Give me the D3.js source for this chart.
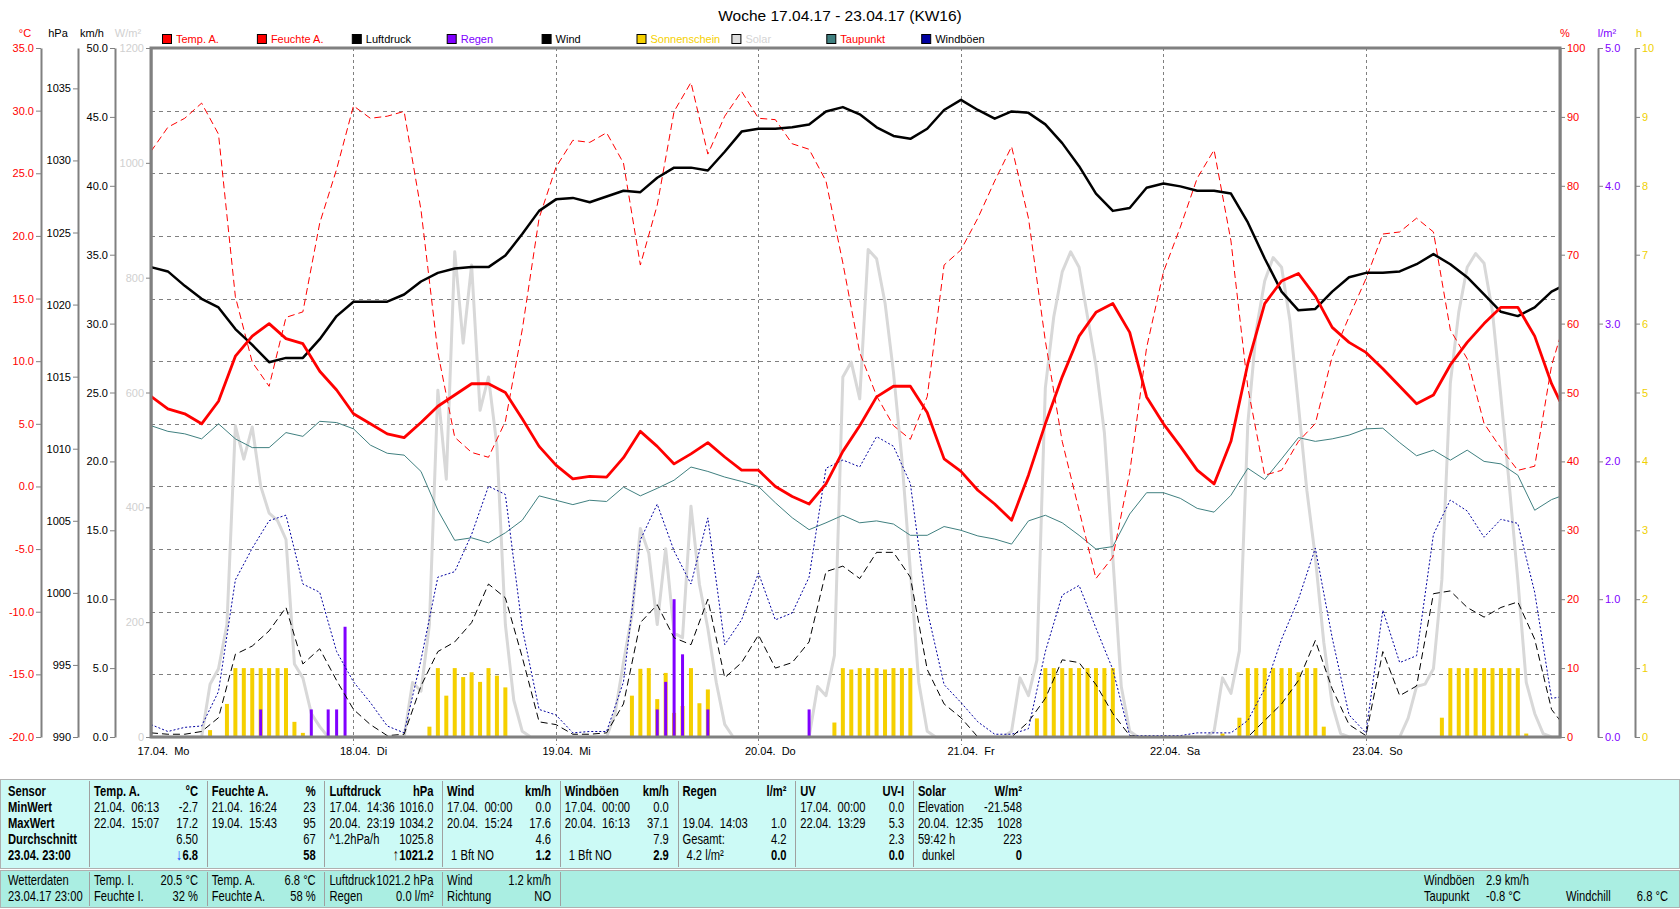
<!DOCTYPE html>
<html>
<head>
<meta charset="utf-8">
<script src="https://cdn.jsdelivr.net/npm/d3@7"></script>
<style>
  body { margin: 0; background: #fff; }
  svg { display: block; }
</style>
</head>
<body>
<svg id="chart" width="1680" height="909"></svg>
<script>
// ---- data (17.04.17 - 23.04.17) ----
// smooth series every 2 hours (h0 .. h166) plus the last reading at h167
const hours2 = d3.range(0, 168, 2).concat([167]);
const hours1 = d3.range(0, 168);

const tempA = [7.2, 6.2, 5.8, 5.0, 6.8, 10.4, 12.0, 13.0, 11.8, 11.4, 9.2, 7.7, 5.8, 5.0, 4.2, 3.9, 5.1, 6.4, 7.3, 8.2, 8.2, 7.5,
  5.4, 3.2, 1.7, 0.6, 0.8, 0.75, 2.3, 4.4, 3.2, 1.8, 2.6, 3.5, 2.35, 1.3, 1.3, 0.0, -0.8, -1.4, 0.2, 2.8,
  4.85, 7.15, 8.0, 8.0, 5.9, 2.2, 1.2, -0.3, -1.4, -2.7, 0.9, 5.0, 8.75, 12.0, 13.9, 14.6, 12.3, 7.15, 5.0, 3.2, 1.3,
  0.2, 3.6, 9.8, 14.6, 16.4, 17.0, 15.2, 12.7, 11.5, 10.7, 9.4, 8.0, 6.6, 7.3, 9.7, 11.5, 13.0, 14.3, 14.3, 12.0, 8.2,
  6.8];

const humidA = [85.0, 88.5, 89.8, 92.0, 87.5, 63.9, 54.4, 50.9, 60.9, 61.7, 74.6, 82.4, 91.6, 89.8, 90.1, 90.8, 76.5, 55.8, 43.5, 41.3, 40.6, 45.8,
  59.1, 75.3, 82.7, 86.6, 86.3, 87.7, 83.3, 68.5, 77.2, 90.8, 95.0, 84.6, 90.1, 93.7, 89.8, 89.6, 86.1, 85.3, 80.7, 68.8,
  55.8, 49.5, 45.2, 43.2, 49.4, 68.5, 70.7, 75.3, 80.7, 85.7, 75.3, 57.5, 42.9, 32.9, 23.0, 26.1, 38.4, 56.5, 67.5, 74.0, 81.1,
  85.2, 72.0, 50.7, 38.0, 38.7, 42.9, 45.5, 55.2, 61.0, 66.5, 73.0, 73.3, 75.3, 73.3, 59.1, 54.9, 45.5, 41.9, 38.7, 39.3, 53.9,
  58];

const pressure = [1022.6, 1022.3, 1021.3, 1020.4, 1019.8, 1018.3, 1017.2, 1016.0, 1016.3, 1016.3, 1017.6, 1019.2, 1020.2, 1020.2, 1020.2, 1020.7, 1021.6, 1022.2, 1022.5, 1022.6, 1022.6, 1023.4,
  1024.9, 1026.5, 1027.3, 1027.4, 1027.1, 1027.5, 1027.9, 1027.8, 1028.8, 1029.5, 1029.5, 1029.3, 1030.6, 1032.0, 1032.2, 1032.2, 1032.3, 1032.5, 1033.4, 1033.7,
  1033.2, 1032.3, 1031.7, 1031.5, 1032.2, 1033.5, 1034.2, 1033.5, 1032.9, 1033.4, 1033.3, 1032.5, 1031.2, 1029.6, 1027.7, 1026.5, 1026.7, 1028.1, 1028.4, 1028.2, 1027.9,
  1027.9, 1027.7, 1025.7, 1023.2, 1020.9, 1019.6, 1019.7, 1020.9, 1021.9, 1022.2, 1022.2, 1022.3, 1022.8, 1023.5, 1022.8, 1021.9, 1020.7, 1019.5, 1019.2, 1019.8, 1020.9,
  1021.2];

const dewPoint = [4.85, 4.4, 4.2, 3.8, 5.0, 3.8, 3.1, 3.1, 4.3, 4.0, 5.2, 5.1, 4.6, 3.3, 2.65, 2.5, 1.2, -1.9, -4.3, -4.1, -4.5, -3.7,
  -2.7, -0.75, -1.1, -1.45, -1.1, -1.2, -0.05, -0.75, -0.15, 0.5, 1.55, 1.2, 0.75, 0.4, 0.0, -1.3, -2.5, -3.45, -2.9, -2.3,
  -2.9, -2.75, -3.0, -3.9, -3.9, -3.2, -3.5, -3.95, -4.2, -4.6, -2.75, -2.3, -2.9, -3.9, -5.0, -4.8, -2.2, -0.5, -0.5, -0.95, -1.75,
  -2.05, -0.7, 1.45, 0.55, 2.2, 3.9, 3.6, 3.8, 4.1, 4.6, 4.65, 3.5, 2.45, 2.9, 2.1, 2.9, 2.0, 1.8, 0.9, -1.9, -1.05,
  -0.8];

const wind = [0.3, 0.2, 0.2, 0.4, 1.4, 6.0, 6.6, 7.7, 9.4, 5.3, 6.4, 4.1, 2.0, 0.9, 0.1, 0.2, 3.7, 6.2, 6.9, 8.3, 11.1, 10.1,
  5.8, 1.1, 0.9, 0.2, 0.2, 0.3, 2.4, 8.3, 9.6, 7.2, 6.7, 10.0, 4.3, 5.4, 7.4, 5.0, 5.4, 6.9, 12.0, 12.4,
  11.5, 13.4, 13.4, 11.6, 4.9, 2.4, 1.4, 0, 0, 0, 1.1, 2.8, 5.6, 5.4, 3.8, 1.7, 0.1, 0, 0, 0, 0,
  0, 0, 0, 1.2, 2.4, 4.1, 7.0, 3.5, 0.9, 0.1, 6.2, 3.0, 3.7, 10.4, 10.6, 9.4, 8.7, 9.4, 9.8, 7.1, 2.0,
  1.2];

const gusts = [0.9, 0.4, 0.7, 0.8, 3.3, 11.4, 13.7, 15.7, 16.1, 11.1, 10.5, 6.2, 4.0, 2.5, 0.8, 0.3, 5.6, 11.6, 12.0, 14.7, 18.2, 17.6,
  7.9, 2.0, 1.6, 0.3, 0.4, 0.4, 4.0, 14.3, 16.9, 13.5, 11.1, 15.9, 6.7, 8.5, 11.9, 8.5, 9.0, 11.6, 19.5, 20.1,
  19.6, 21.8, 21.1, 18.4, 9.2, 3.8, 2.5, 1.1, 0.2, 0.2, 0.6, 6.2, 10.3, 11.0, 7.9, 4.9, 0.1, 0.1, 0.1, 0.1, 0.3,
  0.3, 0.3, 1.2, 3.5, 7.1, 10.0, 13.7, 7.2, 1.6, 0.3, 9.2, 5.4, 5.9, 14.7, 17.2, 16.4, 14.5, 15.8, 15.5, 10.5, 2.8,
  2.9];

// solar radiation, hourly (W/m²)
const solar = [
  0, 0, 0, 0, 0, 0, 0, 92, 119, 196, 542, 484, 540, 437, 390, 377, 344, 127, 103, 41, 18, 0, 0, 0,
  0, 0, 0, 0, 0, 0, 0, 95, 80, 196, 604, 449, 845, 686, 822, 569, 627, 507, 196, 64, 10, 0, 0, 0,
  0, 0, 0, 0, 0, 0, 0, 41, 130, 212, 363, 320, 196, 328, 181, 173, 402, 266, 189, 95, 22, 0, 0, 0,
  0, 0, 0, 0, 0, 0, 0, 88, 72, 142, 627, 653, 589, 849, 833, 756, 635, 484, 290, 95, 10, 0, 0, 0,
  0, 0, 0, 0, 0, 0, 10, 103, 72, 134, 608, 732, 810, 845, 818, 732, 647, 530, 313, 88, 10, 0, 0, 0,
  0, 0, 0, 0, 0, 0, 10, 103, 76, 150, 546, 709, 794, 835, 818, 724, 577, 429, 313, 165, 57, 6, 0, 0,
  0, 0, 0, 0, 0, 33, 88, 92, 119, 274, 616, 740, 818, 842, 825, 740, 592, 437, 274, 95, 41, 6, 0, 0];

// sunshine duration per hour (h)
const sunHours = [7, 9, 10, 11, 12, 13, 14, 15, 16, 17, 18,
  33, 34, 35, 36, 37, 38, 39, 40, 41, 42,
  57, 58, 59, 60, 61, 62, 63, 64, 65, 66,
  81, 82, 83, 84, 85, 86, 87, 88, 89, 90,
  105, 106, 107, 108, 109, 110, 111, 112, 113, 114,
  127, 129, 130, 131, 132, 133, 134, 135, 136, 137, 138, 139,
  153, 154, 155, 156, 157, 158, 159, 160, 161, 162, 163];
const sunDur = [0.1, 0.48, 1, 1, 1, 1, 1, 1, 1, 0.22, 0.06,
  0.15, 1, 0.6, 1, 0.87, 0.94, 0.8, 1, 0.89, 0.72,
  0.6, 0.99, 1, 0.55, 0.93, 0.35, 0.45, 1, 0.49, 0.69,
  0.21, 1, 0.98, 1, 1, 1, 0.98, 1, 1, 1,
  0.27, 1, 1, 1, 1, 1, 1, 1, 1, 1,
  0.05, 0.28, 1, 1, 1, 1, 1, 1, 0.94, 1, 1, 0.15,
  0.28, 1, 1, 1, 1, 1, 1, 1, 1, 1, 0.05];

// rain per hour (l/m²)
const rainHours = [13, 19, 21, 22, 23, 60, 61, 62, 63, 66, 78];
const rainAmt = [0.2, 0.2, 0.2, 0.2, 0.8, 0.2, 0.4, 1.0, 0.6, 0.2, 0.2];

const dayLabels = ['17.04.  Mo', '18.04.  Di', '19.04.  Mi', '20.04.  Do', '21.04.  Fr', '22.04.  Sa', '23.04.  So'];

const legendNames = ['Temp. A.', 'Feuchte A.', 'Luftdruck', 'Regen', 'Wind', 'Sonnenschein', 'Solar', 'Taupunkt', 'Windböen'];
const legendBox = ['#ff0000', '#ff0000', '#000000', '#8000ff', '#000000', '#f5d000', '#dcdcdc', '#408080', '#0000a0'];
const legendText = ['#ff0000', '#ff0000', '#000000', '#8000ff', '#000000', '#f5d000', '#d4d4d4', '#ff0000', '#000000'];

// summary table
const tableHead = ['Temp. A.', 'Feuchte A.', 'Luftdruck', 'Wind', 'Windböen', 'Regen', 'UV', 'Solar'];
const tableUnit = ['°C', '%', 'hPa', 'km/h', 'km/h', 'l/m²', 'UV-I', 'W/m²'];
const rowLabels = ['Sensor', 'MinWert', 'MaxWert', 'Durchschnitt', '23.04. 23:00'];
const minRow = [['21.04.  06:13', '-2.7'], ['21.04.  16:24', '23'], ['17.04.  14:36', '1016.0'], ['17.04.  00:00', '0.0'], ['17.04.  00:00', '0.0'], ['', ''], ['17.04.  00:00', '0.0'], ['Elevation', '-21.548']];
const maxRow = [['22.04.  15:07', '17.2'], ['19.04.  15:43', '95'], ['20.04.  23:19', '1034.2'], ['20.04.  15:24', '17.6'], ['20.04.  16:13', '37.1'], ['19.04.  14:03', '1.0'], ['22.04.  13:29', '5.3'], ['20.04.  12:35', '1028']];
const avgRow = [['', '6.50'], ['', '67'], ['^1.2hPa/h', '1025.8'], ['', '4.6'], ['', '7.9'], ['Gesamt:', '4.2'], ['', '2.3'], ['59:42 h', '223']];
const nowRow = [['', '6.8'], ['', '58'], ['', '1021.2'], ['1 Bft NO', '1.2'], ['1 Bft NO', '2.9'], ['4.2 l/m²', '0.0'], ['', '0.0'], ['dunkel', '0']];
const nowArrow = ['↓', '', '↑', '', '', '', '', ''];
const nowArrowColor = ['#1040ff', '', '#301000', '', '', '', '', ''];

const statusLeft = ['Wetterdaten', '23.04.17 23:00'];
const statusCols = [
  [['Temp. I.', '20.5 °C'], ['Feuchte I.', '32 %']],
  [['Temp. A.', '6.8 °C'], ['Feuchte A.', '58 %']],
  [['Luftdruck', '1021.2 hPa'], ['Regen', '0.0 l/m²']],
  [['Wind', '1.2 km/h'], ['Richtung', 'NO']]
];
const statusRight = [['Windböen', '2.9 km/h'], ['Taupunkt', '-0.8 °C']];
const statusChill = ['Windchill', '6.8 °C'];

// ---- layout ----
const FONT = "'Liberation Sans', Arial, sans-serif";
const plot = { left: 151, right: 1560, top: 48, bottom: 737 };
const SX = 0.8;   // horizontal squeeze for the narrow table font

const svg = d3.select('#chart');

const x = d3.scaleLinear().domain([0, 167]).range([plot.left, plot.right]);
const yTemp = d3.scaleLinear().domain([-20, 35]).range([plot.bottom, plot.top]);
const yPress = d3.scaleLinear().domain([990, 1037.8]).range([plot.bottom, plot.top]);
const yWind = d3.scaleLinear().domain([0, 50]).range([plot.bottom, plot.top]);
const ySolar = d3.scaleLinear().domain([0, 1200]).range([plot.bottom, plot.top]);
const yHum = d3.scaleLinear().domain([0, 100]).range([plot.bottom, plot.top]);
const yRain = d3.scaleLinear().domain([0, 5]).range([plot.bottom, plot.top]);
const ySun = d3.scaleLinear().domain([0, 10]).range([plot.bottom, plot.top]);

// title
svg.append('text')
    .attr('x', 840).attr('y', 21)
    .attr('text-anchor', 'middle')
    .attr('font-family', FONT).attr('font-size', 15.5)
    .attr('fill', '#000')
    .text('Woche 17.04.17 - 23.04.17 (KW16)');

// legend
const legend = svg.append('g').attr('font-family', FONT).attr('font-size', 11);
legendNames.forEach((name, i) => {
    const lx = 162 + i * 94.9;
    legend.append('rect')
        .attr('x', lx + 0.5).attr('y', 34.5).attr('width', 9).attr('height', 9)
        .attr('fill', legendBox[i]).attr('stroke', '#000');
    legend.append('text')
        .attr('x', lx + 14).attr('y', 42.5)
        .attr('fill', legendText[i])
        .text(name);
});

// unit labels above the axes
const units = [
    { t: '°C', x: 25, c: '#ff0000' }, { t: 'hPa', x: 58, c: '#000' }, { t: 'km/h', x: 92, c: '#000' },
    { t: 'W/m²', x: 128, c: '#d0d0d0' }, { t: '%', x: 1565, c: '#ff0000' }, { t: 'l/m²', x: 1607, c: '#8000ff' },
    { t: 'h', x: 1639, c: '#f0d000' }
];
svg.append('g').attr('font-family', FONT).attr('font-size', 11)
    .selectAll('text').data(units).join('text')
    .attr('x', d => d.x).attr('y', 36.5)
    .attr('text-anchor', 'middle')
    .attr('fill', d => d.c)
    .text(d => d.t);

// axes
function drawAxis(axis, xPos, color) {
    const g = svg.append('g').attr('transform', `translate(${xPos},0)`).call(axis);
    g.attr('font-family', FONT).attr('font-size', 11);
    g.select('.domain').attr('stroke', '#808080').attr('stroke-width', 2);
    g.selectAll('.tick line').attr('stroke', '#808080');
    g.selectAll('.tick text').attr('fill', color);
    return g;
}
const fmt1 = d => d.toFixed(1);

drawAxis(d3.axisLeft(yTemp).tickValues(d3.range(-20, 36, 5)).tickFormat(fmt1).tickSize(5).tickSizeOuter(0).tickPadding(2), 41, '#ff0000');
drawAxis(d3.axisLeft(yPress).tickValues(d3.range(990, 1036, 5)).tickFormat(d => d).tickSize(5).tickSizeOuter(0).tickPadding(2), 78, '#000');
drawAxis(d3.axisLeft(yWind).tickValues(d3.range(0, 51, 5)).tickFormat(fmt1).tickSize(5).tickSizeOuter(0).tickPadding(2), 115, '#000');
drawAxis(d3.axisLeft(ySolar).tickValues(d3.range(0, 1201, 200)).tickFormat(d => d).tickSize(5).tickSizeOuter(0).tickPadding(2), plot.left, '#d0d0d0');
drawAxis(d3.axisRight(yHum).tickValues(d3.range(0, 101, 10)).tickFormat(d => d).tickSize(5).tickSizeOuter(0).tickPadding(2), plot.right, '#ff0000');
drawAxis(d3.axisRight(yRain).tickValues(d3.range(0, 6, 1)).tickFormat(fmt1).tickSize(5).tickSizeOuter(0).tickPadding(2), 1598, '#8000ff');
drawAxis(d3.axisRight(ySun).tickValues(d3.range(0, 11, 1)).tickFormat(d => d).tickSize(5).tickSizeOuter(0).tickPadding(2), 1635, '#f0d000');

// grid
const grid = svg.append('g').attr('stroke', '#808080').attr('stroke-width', 1).attr('shape-rendering', 'crispEdges');
grid.selectAll('.h').data(d3.range(-15, 35, 5)).join('line')
    .attr('x1', plot.left).attr('x2', plot.right)
    .attr('y1', d => Math.round(yTemp(d)) + 0.5).attr('y2', d => Math.round(yTemp(d)) + 0.5)
    .attr('stroke-dasharray', '4,4');
grid.selectAll('.v').data(d3.range(24, 167, 24)).join('line')
    .attr('x1', d => Math.round(x(d)) + 0.5).attr('x2', d => Math.round(x(d)) + 0.5)
    .attr('y1', plot.top).attr('y2', plot.bottom + 8)
    .attr('stroke-dasharray', '3,3');

// x axis day labels
const gx = svg.append('g')
    .attr('transform', `translate(0,${plot.bottom})`)
    .call(d3.axisBottom(x).tickValues(d3.range(0, 168, 24)).tickFormat((d, i) => dayLabels[i]).tickSize(0).tickPadding(10));
gx.attr('font-family', FONT).attr('font-size', 11);
gx.select('.domain').remove();
gx.selectAll('text').attr('text-anchor', 'start').attr('dx', -14).attr('fill', '#000').style('white-space', 'pre');

// series
function drawLine(hrs, vals, yScale, color, width, dash) {
    const line = d3.line().x(d => x(d[0])).y(d => yScale(d[1]));
    svg.append('path')
        .datum(d3.zip(hrs, vals))
        .attr('d', line)
        .attr('fill', 'none')
        .attr('stroke', color)
        .attr('stroke-width', width)
        .attr('stroke-linejoin', 'round')
        .attr('stroke-dasharray', dash || null);
}

drawLine(hours1, solar, ySolar, '#d8d8d8', 3);

// sunshine bars
svg.append('g').selectAll('rect')
    .data(d3.zip(sunHours, sunDur))
    .join('rect')
    .attr('x', d => x(d[0]) - 2)
    .attr('y', d => ySun(d[1]))
    .attr('width', 4)
    .attr('height', d => ySun(0) - ySun(d[1]))
    .attr('fill', '#f5d000');

// rain bars
svg.append('g').selectAll('rect')
    .data(d3.zip(rainHours, rainAmt))
    .join('rect')
    .attr('x', d => x(d[0]) - 1.5)
    .attr('y', d => yRain(d[1]))
    .attr('width', 3)
    .attr('height', d => yRain(0) - yRain(d[1]))
    .attr('fill', '#8000ff');

drawLine(hours2, dewPoint, yTemp, '#408080', 1);
drawLine(hours2, humidA, yHum, '#ff0000', 1, '7,4');
drawLine(hours2, gusts, yWind, '#0000a0', 1, '2,2');
drawLine(hours2, wind, yWind, '#000000', 1, '7,4');
drawLine(hours2, pressure, yPress, '#000000', 2.5);
drawLine(hours2, tempA, yTemp, '#ff0000', 2.8);

// plot frame
svg.append('rect')
    .attr('x', plot.left).attr('y', plot.top)
    .attr('width', plot.right - plot.left).attr('height', plot.bottom - plot.top)
    .attr('fill', 'none').attr('stroke', '#808080').attr('stroke-width', 3);

// narrow text helper for the table (squeezed horizontally)
function tText(g, tx, ty, str, anchor, bold) {
    const t = g.append('text')
        .attr('transform', `translate(${tx},${ty}) scale(${SX},1)`)
        .attr('text-anchor', anchor || 'start')
        .attr('font-weight', bold ? 'bold' : null)
        .style('white-space', 'pre');
    if (str !== null) t.text(str);
    return t;
}

// ---- summary table ----
const tTop = 779, tBottom = 868;
const rowY = [791, 807, 823, 839, 855].map(v => v + 5);
const colX = d3.range(8).map(i => 89 + i * 117.7);
const table = svg.append('g').attr('font-family', FONT).attr('font-size', 14).attr('fill', '#000');

table.append('rect')
    .attr('x', 0.5).attr('y', tTop + 0.5).attr('width', 1679).attr('height', tBottom - tTop)
    .attr('fill', '#ccfaf6').attr('stroke', '#b0b0b0');
table.selectAll('.div').data(colX).join('line')
    .attr('x1', d => Math.round(d) + 0.5).attr('x2', d => Math.round(d) + 0.5)
    .attr('y1', tTop + 2).attr('y2', tBottom - 1)
    .attr('stroke', '#a0a0a0');

rowLabels.forEach((t, r) => tText(table, 8, rowY[r], t, 'start', true));

const bodyRows = [minRow, maxRow, avgRow, nowRow];
tableHead.forEach((h, c) => {
    const left = colX[c] + 5, right = colX[c] + 109;
    tText(table, left, rowY[0], h, 'start', true);
    tText(table, right, rowY[0], tableUnit[c], 'end', true);
    bodyRows.forEach((row, r) => {
        const cell = row[c];
        const last = r === 3;
        if (cell[0]) tText(table, left + (last ? 4 : 0), rowY[r + 1], cell[0], 'start', false);
        const vt = tText(table, right, rowY[r + 1], null, 'end', last);
        if (last && nowArrow[c]) vt.append('tspan').attr('fill', nowArrowColor[c]).attr('font-size', 16).text(nowArrow[c]);
        vt.append('tspan').text(cell[1]);
    });
});

// ---- status band ----
const sTop = 870, sBottom = 907;
const sRowY = [880, 896].map(v => v + 5);
const status = svg.append('g').attr('font-family', FONT).attr('font-size', 14).attr('fill', '#000');
status.append('rect')
    .attr('x', 0.5).attr('y', sTop + 0.5).attr('width', 1679).attr('height', sBottom - sTop)
    .attr('fill', '#aaeee2').attr('stroke', '#b0b0b0');
status.selectAll('.div').data(colX.slice(0, 5)).join('line')
    .attr('x1', d => Math.round(d) + 0.5).attr('x2', d => Math.round(d) + 0.5)
    .attr('y1', sTop + 2).attr('y2', sBottom - 1)
    .attr('stroke', '#a0a0a0');

statusLeft.forEach((t, r) => tText(status, 8, sRowY[r], t));
statusCols.forEach((col, c) => {
    col.forEach((cell, r) => {
        tText(status, colX[c] + 5, sRowY[r], cell[0]);
        tText(status, colX[c] + 109, sRowY[r], cell[1], 'end');
    });
});
statusRight.forEach((cell, r) => {
    tText(status, 1424, sRowY[r], cell[0]);
    tText(status, 1486, sRowY[r], cell[1]);
});
tText(status, 1566, sRowY[1], statusChill[0]);
tText(status, 1668, sRowY[1], statusChill[1], 'end');
</script>
</body>
</html>
